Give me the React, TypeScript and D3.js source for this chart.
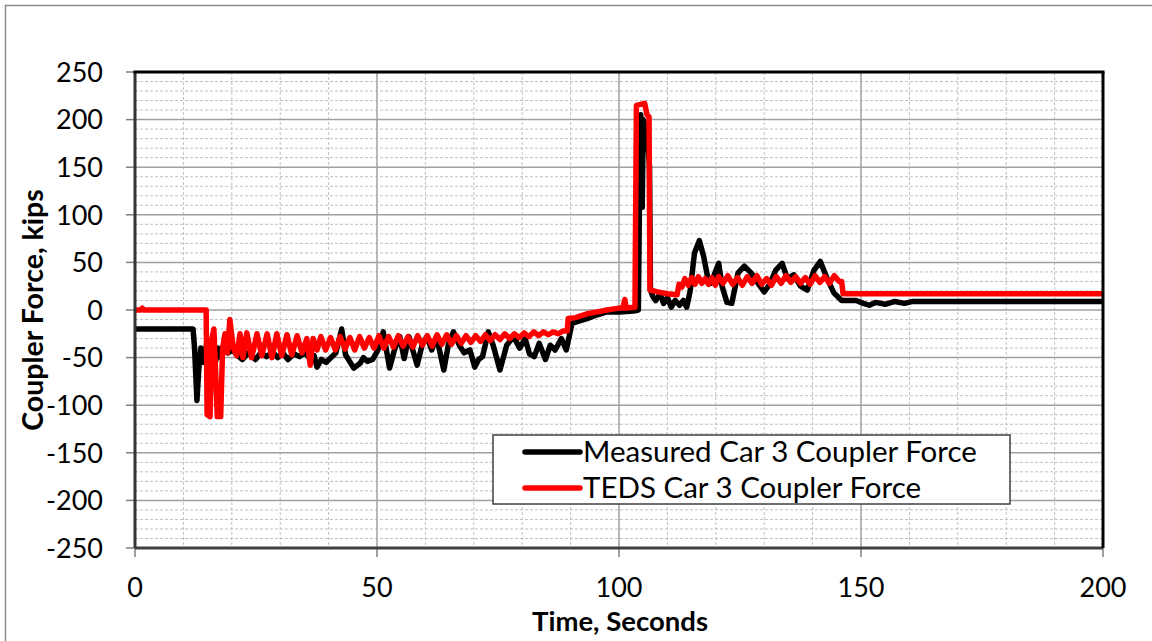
import React from "react";
import * as d3 from "d3";

const xTicks = [0, 50, 100, 150, 200];
const yTicks = [250, 200, 150, 100, 50, 0, -50, -100, -150, -200, -250];
const seriesNames = ["Measured Car 3 Coupler Force", "TEDS Car 3 Coupler Force"];
const seriesColors = ["#000000", "#ff0000"];

const measured: [number, number][] = [
  [0, -20], [12, -20], [12.3, -40], [12.8, -95], [13.2, -60], [13.6, -40], [14.2, -55], [14.8, -35],
  [15.4, -50], [16, -38], [16.6, -55], [17.2, -40], [17.8, -50], [18.4, -35], [19.2, -45], [20.2, -42],
  [21.2, -48], [22.2, -52], [23.4, -45], [24.9, -52], [26, -45], [27.2, -49], [28.4, -44], [29.5, -50],
  [30.5, -45], [31.6, -52], [32.8, -46], [34, -49], [35, -45], [36, -50], [37, -48], [37.6, -60],
  [38.5, -52], [39.5, -55], [40.3, -51], [41.5, -45], [42.7, -20], [43.5, -47], [45.2, -61], [46.5, -56],
  [47.2, -50], [48, -54], [49.1, -52], [50.2, -42], [51.3, -23], [52.6, -61], [53.6, -42], [54.7, -28], [55.6, -51],
  [56.6, -28], [58.3, -58], [59.4, -35], [60.3, -28], [61.3, -42], [62.3, -28], [63.8, -63], [64.8, -35],
  [65.8, -23], [67, -37], [68, -45], [69.2, -42], [70.2, -60], [71, -52], [71.8, -49], [73, -23], [74, -37],
  [75.4, -63], [76.8, -37], [78.2, -28], [79.5, -40], [80.6, -30], [81.5, -46], [82.5, -49], [83.5, -35],
  [84.8, -52], [85.8, -37], [86.8, -42], [88.1, -30], [89.1, -42], [89.7, -28], [90.3, -14], [91.5, -12],
  [93.4, -9], [95.5, -5], [97.5, -2], [100, -2], [103, -1], [104, 0], [104.3, 150], [104.5, 205],
  [104.8, 108], [105, 200], [105.8, 189], [106.3, 150], [106.5, 21], [107, 14], [107.6, 10], [108.5, 17],
  [109.2, 7], [110, 13], [110.8, 3], [111.6, 10], [112.5, 5], [113.3, 10], [114, 3], [114.7, 20],
  [115.6, 60], [116.6, 73], [117.5, 56], [118.3, 35], [119, 28], [120.6, 49], [121.3, 25], [122.3, 8],
  [123.3, 7], [124.6, 39], [125.9, 46], [127.3, 39], [129, 26], [130, 19], [131, 26], [132.4, 42],
  [133.7, 49], [134.8, 33], [136.1, 37], [137.5, 25], [138.9, 21], [140.3, 42], [141.6, 51], [143, 33],
  [144.4, 18], [146, 10], [149, 10], [150.5, 7], [151.7, 5], [153, 8], [155, 6], [157, 9],
  [159, 7], [160.7, 9], [200, 9],
];

const teds: [number, number][] = [
  [0, 0], [1.2, 0], [1.5, 2], [1.8, 0], [14.7, 0], [14.9, -110], [15.5, -112], [15.9, -30],
  [16.3, -20], [16.7, -70], [17, -112], [17.7, -112], [18.1, -40], [18.6, -25], [19.1, -45], [19.6, -10],
  [20.3, -40], [21, -48], [21.7, -25], [22.3, -50], [23.1, -24], [24.1, -50], [25.2, -25], [26.2, -48],
  [27.3, -25], [28.3, -50], [29.3, -25], [30.3, -48], [31.4, -26], [32.4, -47], [33.5, -27], [34.5, -45],
  [35.5, -30], [36.2, -58], [36.8, -30], [37.6, -42], [38.4, -28], [39.4, -42], [40.4, -29], [41.4, -42],
  [42.4, -28], [43.4, -41], [44.4, -29], [45.4, -42], [46.4, -28], [47.4, -40], [48.4, -29], [49.4, -40],
  [50.4, -27], [51.4, -40], [52.4, -28], [53.4, -39], [54.4, -27], [55.4, -38], [56.4, -28], [57.4, -39],
  [58.4, -27], [59.4, -37], [60.4, -27], [61.4, -38], [62.4, -26], [63.4, -36], [64.4, -26], [65.4, -36],
  [66.4, -27], [67.4, -35], [68.4, -27], [69.4, -34], [70.4, -27], [71.4, -33], [72.4, -26], [73.4, -32],
  [74.4, -26], [75.4, -31], [76.4, -25], [77.4, -30], [78.4, -25], [79.4, -29], [80.4, -24], [81.4, -28],
  [82.4, -23], [83.4, -27], [84.4, -23], [85.4, -26], [86.4, -23], [87.4, -25], [88.5, -22], [89.3, -22],
  [89.5, -9], [91, -8], [93.4, -4], [95.5, -2], [97.5, 0], [100, 2], [100.8, 2], [101.2, 11],
  [101.5, 2], [103.3, 3], [103.6, 215], [105.3, 217], [105.8, 205], [106.2, 203], [106.4, 21], [108, 19],
  [110, 17], [112, 16], [112.4, 27], [113, 24], [113.6, 33], [114.3, 26], [115, 34], [115.7, 27],
  [116.4, 35], [117.1, 28], [117.8, 33], [118.5, 27], [119.2, 34], [119.9, 26], [120.6, 35], [121.5, 28],
  [122.5, 36], [123.5, 27], [124.5, 34], [125.5, 26], [126.5, 35], [127.5, 28], [128.5, 36], [129.5, 27],
  [130.5, 33], [131.5, 26], [132.5, 35], [133.5, 28], [134.5, 36], [135.5, 29], [136.5, 35], [137.5, 28],
  [138.5, 34], [139.5, 27], [140.5, 36], [141.5, 29], [142.5, 35], [143.5, 28], [144.5, 36], [145.5, 30],
  [146, 30], [146.3, 17], [200, 17],
];

const W = 1152;
const H = 641;
const left = 135, right = 1103, top = 72, bottom = 548;
const FONT = "Lato, 'Open Sans', sans-serif";

export default function App() {
  const x = d3.scaleLinear().domain([0, 200]).range([left, right]);
  const y = d3.scaleLinear().domain([-250, 250]).range([bottom, top]);
  const line = d3.line<[number, number]>().x((d) => x(d[0])).y((d) => y(d[1]));

  const minorX = d3.range(0, 201, 10).filter((v) => v % 50 !== 0);
  const minorY = d3.range(-250, 251, 10).filter((v) => v % 50 !== 0);
  const majorX = [50, 100, 150];
  const majorY = d3.range(-200, 201, 50);

  const legX = 493, legY = 435, legW = 517, legH = 69;

  return (
    <svg width={W} height={H} style={{ position: "absolute", left: 0, top: 0, background: "#fff" }}>
      <rect x={0} y={0} width={W} height={H} fill="#fff" />
      <path d={`M5.5,${H + 5} V5.5 H${W + 5}`} fill="none" stroke="#8c8c8c" strokeWidth={1.5} />
      {/* minor grid */}
      {minorX.map((v) => (
        <line key={"mx" + v} x1={x(v)} x2={x(v)} y1={top} y2={bottom} stroke="#c0c0c0" strokeWidth={1} strokeDasharray="3,2" />
      ))}
      {minorY.map((v) => (
        <line key={"my" + v} x1={left} x2={right} y1={y(v)} y2={y(v)} stroke="#c0c0c0" strokeWidth={1} strokeDasharray="3,2" />
      ))}
      {majorX.map((v) => (
        <line key={"Mx" + v} x1={x(v)} x2={x(v)} y1={top} y2={bottom} stroke="#a0a0a0" strokeWidth={1.5} />
      ))}
      {majorY.map((v) => (
        <line key={"My" + v} x1={left} x2={right} y1={y(v)} y2={y(v)} stroke="#a0a0a0" strokeWidth={1.5} />
      ))}
      {/* ticks */}
      {yTicks.map((v) => (
        <line key={"ty" + v} x1={left - 9} x2={left} y1={y(v)} y2={y(v)} stroke="#7f7f7f" strokeWidth={1.5} />
      ))}
      {xTicks.map((v) => (
        <line key={"tx" + v} x1={x(v)} x2={x(v)} y1={bottom} y2={bottom + 9} stroke="#7f7f7f" strokeWidth={1.5} />
      ))}
      {/* series */}
      <path d={line(measured) || ""} fill="none" stroke={seriesColors[0]} strokeWidth={5.5} strokeLinejoin="round" />
      <path d={line(teds) || ""} fill="none" stroke={seriesColors[1]} strokeWidth={5.5} strokeLinejoin="round" />
      {/* frame */}
      <line x1={left} x2={right} y1={bottom} y2={bottom} stroke="#404040" strokeWidth={3} />
      <line x1={left} x2={left} y1={top} y2={bottom} stroke="#333" strokeWidth={3} />
      <line x1={left - 1.5} x2={right + 1.5} y1={top} y2={top} stroke="#000" strokeWidth={3} />
      <line x1={right} x2={right} y1={top} y2={bottom} stroke="#000" strokeWidth={3} />
      {/* tick labels */}
      {yTicks.map((v) => (
        <text key={"ly" + v} x={103} y={y(v)} dy="0.36em" textAnchor="end" fontFamily={FONT} fontSize={27} fill="#000">
          {v}
        </text>
      ))}
      {xTicks.map((v) => (
        <text key={"lx" + v} x={x(v)} y={597} textAnchor="middle" fontFamily={FONT} fontSize={27} fill="#000">
          {v}
        </text>
      ))}
      {/* axis titles */}
      <text x={620} y={631} textAnchor="middle" fontFamily={FONT} fontSize={27.5} fontWeight="bold" fill="#000">
        Time, Seconds
      </text>
      <text transform={`translate(43,${310}) rotate(-90)`} textAnchor="middle" fontFamily={FONT} fontSize={28.5} fontWeight="bold" fill="#000">
        Coupler Force, kips
      </text>
      {/* legend */}
      <rect x={legX} y={legY} width={legW} height={legH} fill="#fff" stroke="#404040" strokeWidth={1.5} />
      {seriesNames.map((name, i) => (
        <g key={name}>
          <line x1={525} x2={580} y1={452 + i * 36} y2={452 + i * 36} stroke={seriesColors[i]} strokeWidth={5.5} strokeLinecap="round" />
          <text x={583} y={452 + i * 36} dy="0.35em" fontFamily={FONT} fontSize={29.5} fill="#000">
            {name}
          </text>
        </g>
      ))}
    </svg>
  );
}
